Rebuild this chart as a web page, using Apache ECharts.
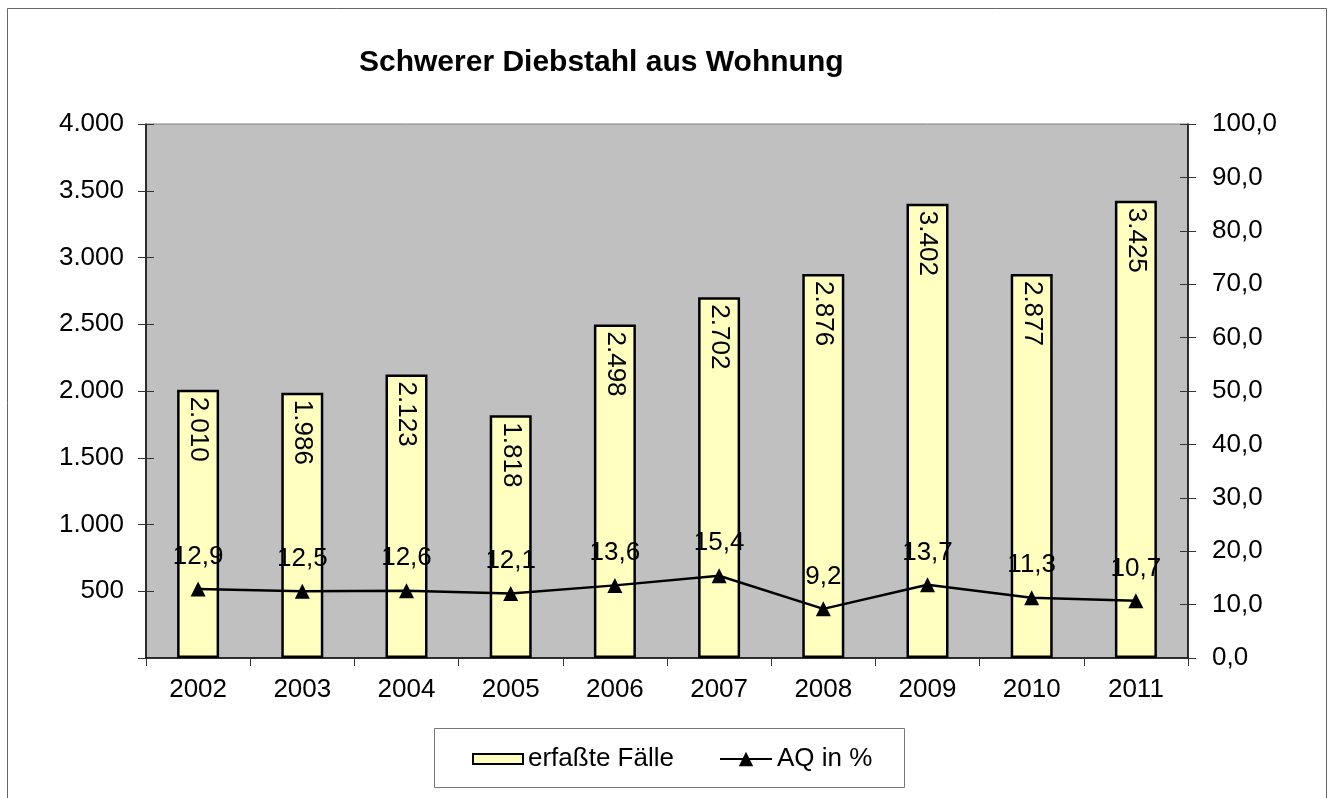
<!DOCTYPE html>
<html lang="de">
<head>
    <meta charset="UTF-8">
    <title>Schwerer Diebstahl aus Wohnung</title>
    <script src="https://cdn.jsdelivr.net/npm/echarts@6/dist/echarts.min.js"></script>
    <style>
        html, body { margin: 0; padding: 0; background: #fff; }
        #chart { width: 1330px; height: 798px; }
    </style>
</head>
<body>
<div id="chart"></div>
<script>
    const years = ['2002', '2003', '2004', '2005', '2006', '2007', '2008', '2009', '2010', '2011'];
    const faelle = [2010, 1986, 2123, 1818, 2498, 2702, 2876, 3402, 2877, 3425];
    const aq = [12.9, 12.5, 12.6, 12.1, 13.6, 15.4, 9.2, 13.7, 11.3, 10.7];

    const font = 'Arial, "Liberation Sans", sans-serif';
    const fs = 26;

    // 1.234 / 12,3 (deutsche Schreibweise)
    function tausend(v) {
        return String(Math.round(v)).replace(/\B(?=(\d{3})+(?!\d))/g, '.');
    }
    function komma(v) {
        return v.toFixed(1).replace('.', ',');
    }

    let chart = echarts.init(document.getElementById('chart'));

    const yCommon = {
        type: 'value',
        axisLine: { show: true, lineStyle: { color: '#000', width: 1.5 } },
        splitLine: { show: false }
    };
    const legendText = { fontSize: fs, color: '#000', fontFamily: font };

    chart.setOption({
        backgroundColor: '#fff',
        animation: false,
        textStyle: { fontFamily: font },
        title: {
            text: 'Schwerer Diebstahl aus Wohnung',
            left: 354,
            top: 43,
            textStyle: { fontSize: 30, fontWeight: 'bold', color: '#000', fontFamily: font }
        },
        graphic: [
            {
                type: 'rect',
                shape: { x: 7.5, y: 8.5, width: 1319, height: 800 },
                style: { fill: 'none', stroke: '#666', lineWidth: 1 },
                silent: true
            },
            {
                type: 'rect',
                shape: { x: 434.5, y: 728.5, width: 470, height: 59 },
                style: { fill: '#fff', stroke: '#777', lineWidth: 1 },
                silent: true,
                z: -1
            }
        ],
        legend: [
            {
                left: 467,
                top: 741,
                itemWidth: 50,
                itemHeight: 10,
                textStyle: legendText,
                data: [{ name: 'erfaßte Fälle', icon: 'rect' }]
            },
            {
                left: 714,
                top: 741,
                itemWidth: 52,
                itemHeight: 18,
                textStyle: legendText,
                data: [{ name: 'AQ in %' }]
            }
        ],
        grid: {
            left: 146,
            right: 142,
            top: 124,
            bottom: 140,
            show: true,
            backgroundColor: '#C0C0C0',
            borderColor: '#808080',
            borderWidth: 1
        },
        xAxis: {
            type: 'category',
            data: years,
            axisLine: { lineStyle: { color: '#000', width: 1.5 } },
            axisTick: { show: true, length: 8, lineStyle: { color: '#333' } },
            axisLabel: { fontSize: fs, color: '#000', margin: 19, fontFamily: font }
        },
        yAxis: [
            Object.assign({}, yCommon, {
                min: 0, max: 4000, interval: 500,
                position: 'left',
                axisTick: { show: true, length: 8, lineStyle: { color: '#333' } },
                axisLabel: {
                    fontSize: fs, color: '#000', margin: 22, fontFamily: font,
                    formatter: v => v === 0 ? '' : tausend(v)
                }
            }),
            Object.assign({}, yCommon, {
                min: 0, max: 100, interval: 10,
                position: 'right',
                axisTick: { show: true, length: 8, lineStyle: { color: '#333' } },
                axisLabel: {
                    fontSize: fs, color: '#000', margin: 24, fontFamily: font,
                    formatter: v => komma(v)
                }
            }),
            // innere Tickhälften links / rechts
            {
                type: 'value', min: 0, max: 4000, interval: 500, position: 'left',
                axisLine: { show: false }, splitLine: { show: false },
                axisLabel: { show: false },
                axisTick: { show: true, inside: true, length: 8, lineStyle: { color: '#333' } }
            },
            {
                type: 'value', min: 0, max: 100, interval: 10, position: 'right',
                axisLine: { show: false }, splitLine: { show: false },
                axisLabel: { show: false },
                axisTick: { show: true, inside: true, length: 8, lineStyle: { color: '#333' } }
            }
        ],
        series: [
            {
                name: 'erfaßte Fälle',
                type: 'bar',
                yAxisIndex: 0,
                barWidth: 42,
                data: faelle,
                itemStyle: { color: '#FFFFC0', borderColor: '#000', borderWidth: 2.5 },
                label: {
                    show: true,
                    position: 'insideTop',
                    distance: 7,
                    rotate: -90,
                    align: 'left',
                    verticalAlign: 'middle',
                    fontSize: fs,
                    color: '#000',
                    fontFamily: font,
                    formatter: p => tausend(p.value)
                }
            },
            {
                name: 'AQ in %',
                type: 'line',
                yAxisIndex: 1,
                data: aq,
                symbol: 'triangle',
                symbolSize: 15,
                itemStyle: { color: '#000' },
                lineStyle: { color: '#000', width: 2.5 },
                label: {
                    show: true,
                    position: 'top',
                    distance: 12,
                    fontSize: fs,
                    color: '#000',
                    fontFamily: font,
                    formatter: p => komma(p.value)
                },
                z: 3
            }
        ]
    });
</script>
</body>
</html>
